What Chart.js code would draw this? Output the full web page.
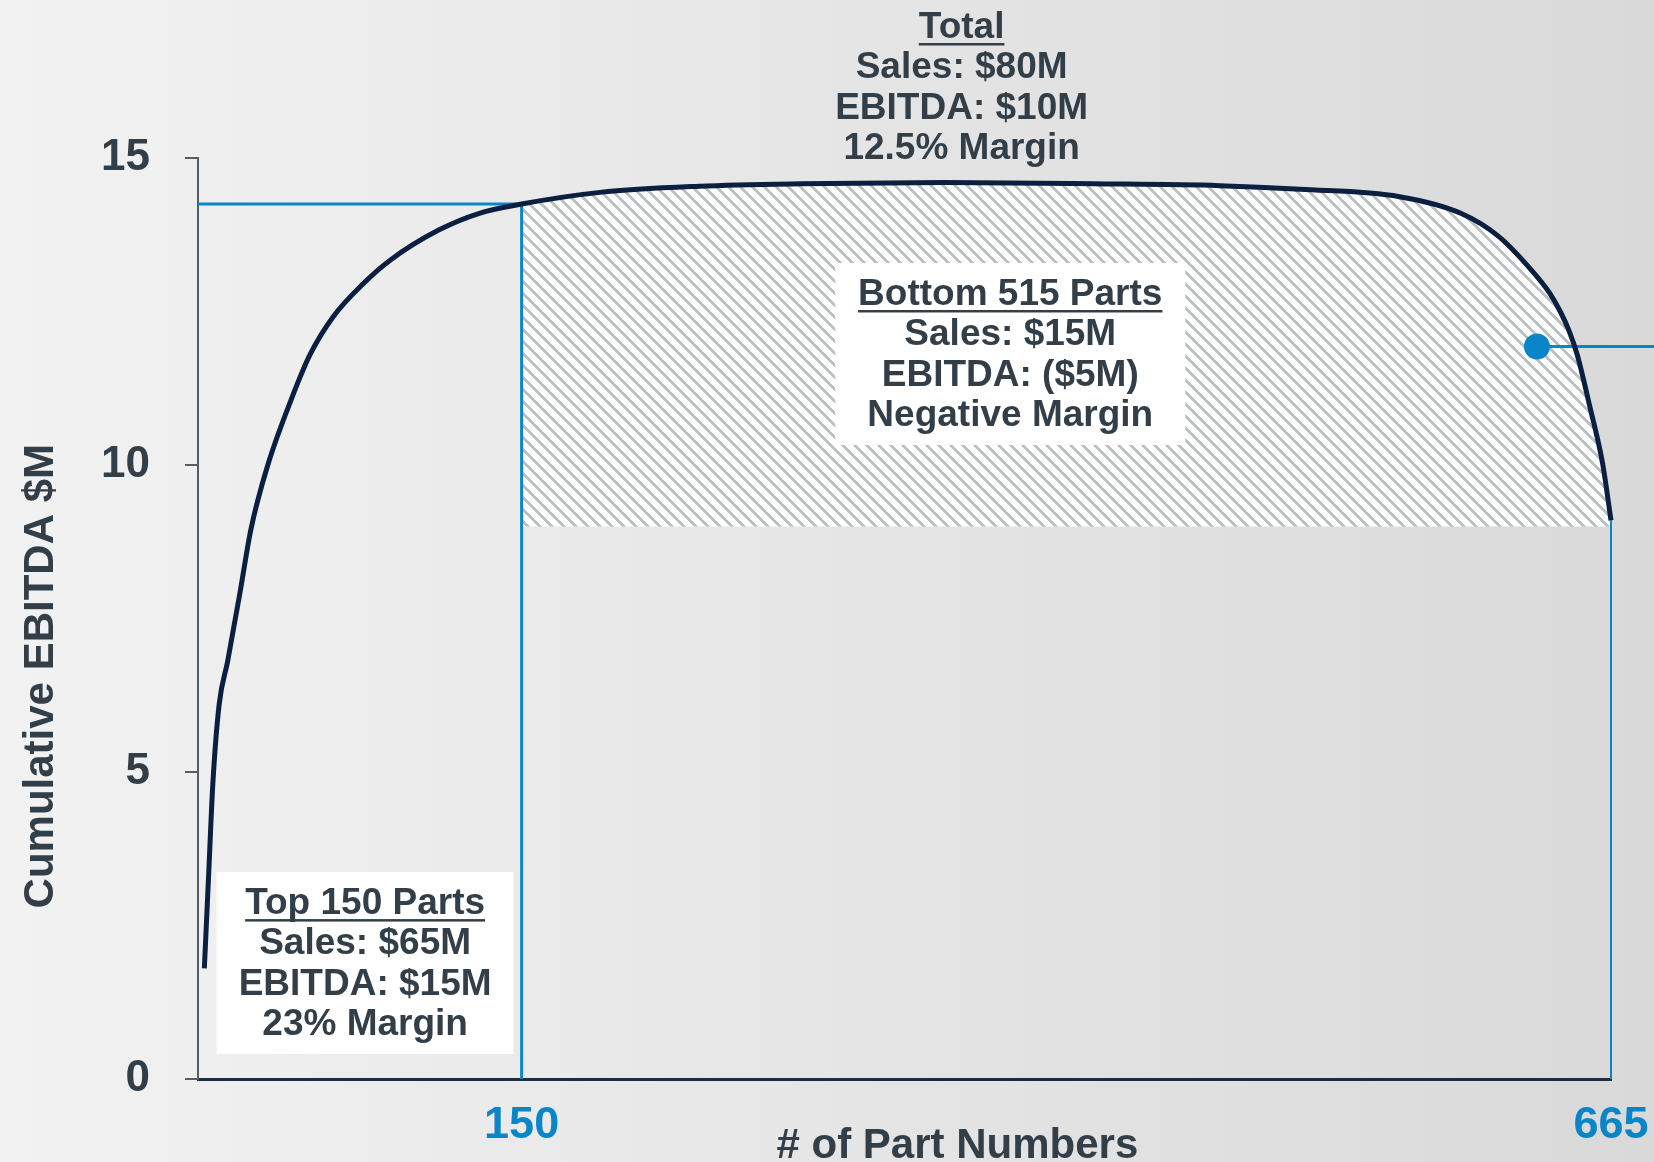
<!DOCTYPE html>
<html>
<head>
<meta charset="utf-8">
<title>Cumulative EBITDA</title>
<script src="https://cdn.jsdelivr.net/npm/chart.js@4.4.1/dist/chart.umd.min.js"></script>
<style>
    html, body { margin: 0; padding: 0; background: #e6e6e6; }
    canvas { display: block; }
</style>
</head>
<body>
<canvas id="myChart" width="1654" height="1162"></canvas>
<script>
// cumulative EBITDA ($M) by number of part numbers, parts sorted by profit
var parti = [0, 2, 4, 7, 11, 17, 22, 30, 41, 50, 61, 75, 88, 111, 130, 150, 187, 234, 282, 350, 420, 480, 518, 565, 594, 612, 628, 636, 641, 645, 649, 655, 661, 665];
var ebitda = [1.8, 3.3, 4.8, 6.1, 6.8, 7.95, 8.95, 10.0, 11.06, 11.8, 12.42, 12.95, 13.34, 13.83, 14.1, 14.25, 14.44, 14.54, 14.58, 14.6, 14.58, 14.55, 14.49, 14.37, 14.1, 13.72, 13.15, 12.8, 12.5, 12.2, 11.8, 10.95, 10.03, 9.1];

// ticks
var tick_x = [150, 665];
var tick_y = [0, 5, 10, 15];
var x_min = -3;

// callout dot inside the shaded area
var richiamo_x = [630];
var richiamo_y = [11.93];
var richiamo_fine = 700;

// floor of the hatched area
var base_tratteggio = 9.0;

// text blocks
var testo_top = ['Top 150 Parts', 'Sales: $65M', 'EBITDA: $15M', '23% Margin'];
var testo_bottom = ['Bottom 515 Parts', 'Sales: $15M', 'EBITDA: ($5M)', 'Negative Margin'];
var testo_totale = ['Total', 'Sales: $80M', 'EBITDA: $10M', '12.5% Margin'];
var titolo_x = '# of Part Numbers';
var titolo_y = 'Cumulative EBITDA $M';

var BLU = '#0a85c8';
var NAVY = '#0b1f40';
var TESTO = '#333f48';
var FONT = '"Liberation Sans", Arial, sans-serif';

// punti della curva
var curva = [];
for (var i = 0; i < parti.length; i++) {
    curva.push({ x: parti[i], y: ebitda[i] });
}

// solo la coda dal taglio in poi, per il tratteggio
var taglio = tick_x[0];
var coda = curva.filter(function(p) { return p.x >= taglio; });

var y_taglio = ebitda[parti.indexOf(taglio)];
var ultimo = curva[curva.length - 1];

var ctx = document.getElementById('myChart').getContext('2d');

// pattern a righe diagonali grigie su bianco
function crea_tratteggio() {
    var n = 12;
    var tile = document.createElement('canvas');
    tile.width = n;
    tile.height = n;
    var c = tile.getContext('2d');
    c.fillStyle = '#ffffff';
    c.fillRect(0, 0, n, n);
    c.fillStyle = '#bcc2c4';
    for (var y = 0; y < n; y++) {
        for (var k = 0; k < 4; k++) {
            c.fillRect((y + k) % n, y, 1, 1);
        }
    }
    return ctx.createPattern(tile, 'repeat');
}

// sfondo grigio sfumato
var sfondo = {
    id: 'sfondo',
    beforeDraw: function(chart) {
        var c = chart.ctx;
        var g = c.createLinearGradient(0, 0, chart.width, 0);
        g.addColorStop(0, '#f2f2f2');
        g.addColorStop(1, '#d9d9d9');
        c.save();
        c.fillStyle = g;
        c.fillRect(0, 0, chart.width, chart.height);
        c.restore();
    }
};

function scrivi_righe(c, righe, cx, base) {
    c.font = 'bold 37px ' + FONT;
    c.fillStyle = TESTO;
    c.textAlign = 'center';
    c.textBaseline = 'alphabetic';
    for (var i = 0; i < righe.length; i++) {
        var y = base + i * 40.3;
        c.fillText(righe[i], cx, y);
        if (i === 0) {
            var w = c.measureText(righe[i]).width;
            c.fillRect(cx - w / 2, y + 5, w, 2.5);
        }
    }
}

function riquadro(c, righe, cx, top, w, h) {
    c.fillStyle = '#ffffff';
    c.fillRect(cx - w / 2, top, w, h);
    scrivi_righe(c, righe, cx, top + 42);
}

// riquadri di testo e titoli degli assi
var etichette = {
    id: 'etichette',
    afterDatasetsDraw: function(chart) {
        var c = chart.ctx;
        var sx = chart.scales.x;
        var sy = chart.scales.y;
        c.save();
        riquadro(c, testo_top, sx.getPixelForValue(76), sy.getPixelForValue(3.37), 297, 182);
        riquadro(c, testo_bottom, sx.getPixelForValue(381), sy.getPixelForValue(13.29), 350, 182);
        scrivi_righe(c, testo_totale, sx.getPixelForValue(358), sy.getPixelForValue(15) - 120);

        c.font = 'bold 42px ' + FONT;
        c.fillStyle = TESTO;
        c.textAlign = 'center';
        c.textBaseline = 'alphabetic';
        c.fillText(titolo_x, sx.getPixelForValue(356), chart.chartArea.bottom + 79);

        c.translate(53, sy.getPixelForValue(6.56));
        c.rotate(-Math.PI / 2);
        c.fillText(titolo_y, 0, 0);
        c.restore();
    }
};

var myChart = new Chart(ctx, {
    type: 'line',
    data: {
        datasets: [
            {
                label: 'Cumulative EBITDA',
                data: curva,
                borderColor: NAVY,
                borderWidth: 5,
                pointRadius: 0,
                cubicInterpolationMode: 'monotone',
                fill: false,
                clip: false
            },
            {
                label: 'callout',
                data: [{ x: richiamo_x[0], y: richiamo_y[0] }],
                showLine: false,
                pointRadius: 13,
                pointBackgroundColor: BLU,
                pointBorderWidth: 0,
                clip: false
            },
            {
                label: 'callout line',
                data: [{ x: richiamo_x[0], y: richiamo_y[0] }, { x: richiamo_fine, y: richiamo_y[0] }],
                borderColor: BLU,
                borderWidth: 3,
                pointRadius: 0,
                clip: false
            },
            {
                label: 'top 150',
                data: [{ x: x_min, y: y_taglio }, { x: taglio, y: y_taglio }, { x: taglio, y: 0 }],
                borderColor: BLU,
                borderWidth: 3,
                pointRadius: 0,
                clip: false
            },
            {
                label: 'end',
                data: [{ x: ultimo.x, y: ultimo.y }, { x: ultimo.x, y: 0 }],
                borderColor: BLU,
                borderWidth: 2,
                pointRadius: 0,
                clip: false
            },
            {
                label: 'bottom 515',
                data: coda,
                borderWidth: 0,
                pointRadius: 0,
                cubicInterpolationMode: 'monotone',
                backgroundColor: crea_tratteggio(),
                fill: { value: base_tratteggio }
            }
        ]
    },
    options: {
        responsive: false,
        animation: false,
        devicePixelRatio: 1,
        layout: {
            padding: { left: 0, top: 158, right: 43, bottom: 0 }
        },
        plugins: {
            legend: { display: false },
            tooltip: { enabled: false }
        },
        scales: {
            x: {
                type: 'linear',
                min: x_min,
                max: tick_x[tick_x.length - 1],
                afterBuildTicks: function(axis) {
                    axis.ticks = tick_x.map(function(v) { return { value: v }; });
                },
                afterFit: function(axis) {
                    axis.height = 83;
                    // le etichette possono uscire dall'area, niente padding extra
                    axis.paddingLeft = 0;
                    axis.paddingRight = 0;
                },
                grid: { drawOnChartArea: false, drawTicks: false },
                border: { display: true, color: '#1d2c45', width: 3 },
                ticks: {
                    color: BLU,
                    padding: 20,
                    maxRotation: 0,
                    autoSkip: false,
                    font: { family: FONT, size: 45, weight: 'bold' }
                }
            },
            y: {
                min: tick_y[0],
                max: tick_y[tick_y.length - 1],
                afterBuildTicks: function(axis) {
                    axis.ticks = tick_y.map(function(v) { return { value: v }; });
                },
                afterFit: function(axis) { axis.width = 198; },
                grid: { drawOnChartArea: false, drawTicks: true, tickLength: 13, color: '#555d66', lineWidth: 2 },
                border: { display: true, color: '#555d66', width: 2 },
                ticks: {
                    color: TESTO,
                    padding: 35,
                    font: { family: FONT, size: 44, weight: 'bold' }
                }
            }
        }
    },
    plugins: [sfondo, etichette]
});
</script>
</body>
</html>
